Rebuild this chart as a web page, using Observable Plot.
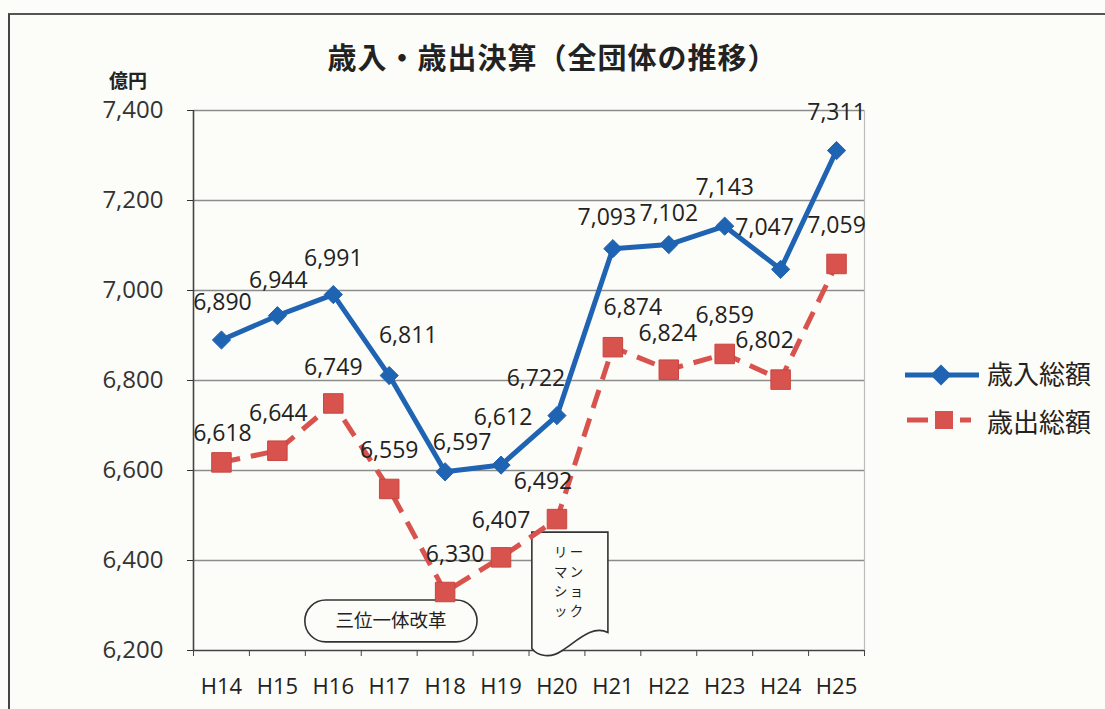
<!DOCTYPE html>
<html>
<head>
<meta charset="utf-8">
<script src="https://cdn.jsdelivr.net/npm/d3@7"></script>
<script src="https://cdn.jsdelivr.net/npm/@observablehq/plot@0.6"></script>
<style>
  body { margin: 0; background: #fcfcf8; }
  #wrap { position: relative; width: 1105px; height: 709px; overflow: hidden; font-family: "Open Sans", sans-serif; color: #222; }
  #frame { position: absolute; left: 8px; top: 13px; width: 1200px; height: 800px; border-top: 2px solid #555; border-left: 2px solid #444; pointer-events: none; }
  #title { position: relative; height: 80px; width: 1105px; text-align: center; font-family: "Noto Sans CJK JP", sans-serif; font-weight: bold; font-size: 29px; line-height: 30px; padding-top: 0; box-sizing: border-box; }
  #title span { position: absolute; left: 0; right: 0; top: 41px; letter-spacing: 1px; }
  #unit { position: absolute; left: 109px; top: 66px; font-family: "Noto Sans CJK JP", sans-serif; font-weight: bold; font-size: 19px; }
  #legend { position: absolute; left: 903px; top: 350px; font-family: "Noto Sans CJK JP", sans-serif; font-size: 26px; }
  .item { position: absolute; left: 0; height: 30px; width: 200px; }
  .item svg { position: absolute; left: 0; top: 0; }
  .item span { position: absolute; left: 84px; top: -4px; line-height: 34px; white-space: nowrap; }
</style>
</head>
<body>
<div id="wrap">
  <div id="frame"></div>
  <div id="title"><span></span></div>
  <div id="unit"></div>
  <div id="chart"></div>
  <div id="legend"></div>
</div>
<script>
// ---- data ----
const title = "歳入・歳出決算（全団体の推移）";
const unit = "億円";
const years = ["H14","H15","H16","H17","H18","H19","H20","H21","H22","H23","H24","H25"];
const revenue = [6890, 6944, 6991, 6811, 6597, 6612, 6722, 7093, 7102, 7143, 7047, 7311];
const expenditure = [6618, 6644, 6749, 6559, 6330, 6407, 6492, 6874, 6824, 6859, 6802, 7059];
const yTicks = [6200, 6400, 6600, 6800, 7000, 7200, 7400];
const seriesNames = ["歳入総額", "歳出総額"];
const reformNote = "三位一体改革";
const lehmanNote = ["リー", "マン", "ショ", "ック"];

// ---- label nudges (pixels) ----
const revenueLabelDx = [1, 1, 0, 19, 17, 2, -21, -6, 0, 0, -16, 0];
const revenueLabelDy = [-37, -35, -36, -40, -29, -47, -37, -31, -31, -39, -42, -38];
const expenditureLabelDx = [1, 1, 0, 0, 10, 0, -14, 20, -1, 0, -16, 0];
const expenditureLabelDy = [-29, -37, -36, -38, -37, -37, -37, -40, -36, -38, -39, -38];

// ---- annotation anchors (data space: x index, y 億円) ----
const reformBox = {x1: 1.5, x2: 4.58, y1: 6218, y2: 6311};
const lehmanBox = {x1: 5.56, x2: 6.92, yTop: 6462, yBottom: 6190};

const blue = "#1f63b3";
const red = "#d8534e";
const fmt = d3.format(",");

document.querySelector("#title span").textContent = title;
document.getElementById("unit").textContent = unit;

const rows = years.map((year, i) => ({i, year, revenue: revenue[i], expenditure: expenditure[i]}));
const boundaries = d3.range(years.length + 1).map(k => k - 0.5);

function annotations(index, scales) {
  const g = d3.create("svg:g");
  const {x, y} = scales;
  // pill
  const px1 = x(reformBox.x1), px2 = x(reformBox.x2), py1 = y(reformBox.y2), py2 = y(reformBox.y1);
  const h = py2 - py1;
  g.append("rect").attr("x", px1).attr("y", py1).attr("width", px2 - px1).attr("height", h)
    .attr("rx", h / 2).attr("ry", h / 2).attr("fill", "#fcfcf8").attr("stroke", "#333").attr("stroke-width", 1.6);
  g.append("text").attr("x", (px1 + px2) / 2).attr("y", (py1 + py2) / 2).attr("dy", "0.35em")
    .attr("text-anchor", "middle").attr("font-family", "'Noto Sans CJK JP', sans-serif").attr("font-size", 18.5)
    .attr("fill", "#222").text(reformNote);
  // document shape
  const lx1 = x(lehmanBox.x1), lx2 = x(lehmanBox.x2), top = y(lehmanBox.yTop), bot = y(lehmanBox.yBottom);
  const w = lx2 - lx1;
  const path = `M${lx1},${top} H${lx2} V${bot - 22}` +
    ` C${lx2 - w * 0.2},${bot - 30} ${lx2 - w * 0.4},${bot - 14} ${lx1 + w * 0.4},${bot - 4}` +
    ` C${lx1 + w * 0.25},${bot + 4} ${lx1 + w * 0.08},${bot + 2} ${lx1},${bot - 6} Z`;
  g.append("path").attr("d", path).attr("fill", "#fcfcf8").attr("stroke", "#333").attr("stroke-width", 1.6);
  const cx = (lx1 + lx2) / 2;
  lehmanNote.forEach((t, k) => {
    g.append("text").attr("x", cx).attr("y", top + 20 + k * 19.8).attr("dy", "0.35em")
      .attr("text-anchor", "middle").attr("font-family", "'Noto Sans CJK JP', sans-serif").attr("font-size", 13.4)
      .attr("letter-spacing", 2.5).attr("fill", "#222").text(t);
  });
  return g.node();
}

const labelMarks = [];
rows.forEach((r, i) => {
  labelMarks.push(Plot.text([r], {x: "i", y: "revenue", text: d => fmt(d.revenue), dx: revenueLabelDx[i], dy: revenueLabelDy[i], fontSize: 23, fill: "#222"}));
  labelMarks.push(Plot.text([r], {x: "i", y: "expenditure", text: d => fmt(d.expenditure), dx: expenditureLabelDx[i], dy: expenditureLabelDy[i], fontSize: 23, fill: "#222"}));
});

const chart = Plot.plot({
  width: 1105,
  height: 629,
  marginLeft: 193,
  marginRight: 241,
  marginTop: 30,
  marginBottom: 59,
  x: {domain: [-0.5, years.length - 0.5]},
  y: {domain: [yTicks[0], yTicks[yTicks.length - 1]]},
  style: {fontFamily: "'Open Sans', sans-serif", background: "transparent", overflow: "visible"},
  marks: [
    Plot.ruleY(yTicks.slice(1), {stroke: "#8c8c8c", strokeWidth: 1.3}),
    Plot.ruleX([years.length - 0.5], {stroke: "#bdbdbd", strokeWidth: 1.2}),
    Plot.ruleY([yTicks[0]], {stroke: "#444", strokeWidth: 1.6}),
    Plot.ruleX([-0.5], {stroke: "#444", strokeWidth: 1.6}),
    Plot.axisY(yTicks, {tickSize: 6, tickPadding: 24, tickFormat: fmt, fontSize: 24, color: "#333", label: null}),
    Plot.axisX(boundaries, {tickSize: 6, tickFormat: () => "", color: "#444", label: null}),
    Plot.axisX(d3.range(years.length), {tickSize: 0, tickPadding: 28, tickFormat: i => years[i], fontSize: 22, color: "#222", label: null}),
    annotations,
    Plot.line(rows, {x: "i", y: "expenditure", stroke: red, strokeWidth: 5, strokeDasharray: "19,11", strokeLinecap: "butt"}),
    Plot.line(rows, {x: "i", y: "revenue", stroke: blue, strokeWidth: 5, strokeLinejoin: "round"}),
    Plot.dot(rows, {x: "i", y: "expenditure", symbol: "square", r: 11, fill: red, stroke: "#c84540", strokeWidth: 1}),
    Plot.dot(rows, {x: "i", y: "revenue", symbol: "diamond2", r: 8.2, fill: blue, stroke: blue, strokeWidth: 1}),
    ...labelMarks
  ]
});
document.getElementById("chart").appendChild(chart);

// legend
const legend = d3.select("#legend");
const it1 = legend.append("div").attr("class", "item").style("top", "10px");
const s1 = it1.append("svg").attr("width", 80).attr("height", 30);
s1.append("line").attr("x1", 2).attr("x2", 76).attr("y1", 15).attr("y2", 15).attr("stroke", blue).attr("stroke-width", 5);
s1.append("path").attr("d", d3.symbol(d3.symbolDiamond2, Math.PI * 9.5 * 9.5)()).attr("transform", "translate(38,15)").attr("fill", blue);
it1.append("span").text(seriesNames[0]);

const it2 = legend.append("div").attr("class", "item").style("top", "58px");
const s2 = it2.append("svg").attr("width", 80).attr("height", 30);
s2.append("line").attr("x1", 4).attr("x2", 68).attr("y1", 12).attr("y2", 12).attr("stroke", red).attr("stroke-width", 5).attr("stroke-dasharray", "21,32");
s2.append("rect").attr("x", 32).attr("y", 3).attr("width", 18).attr("height", 18).attr("fill", red);
it2.append("span").text(seriesNames[1]);
</script>
</body>
</html>
